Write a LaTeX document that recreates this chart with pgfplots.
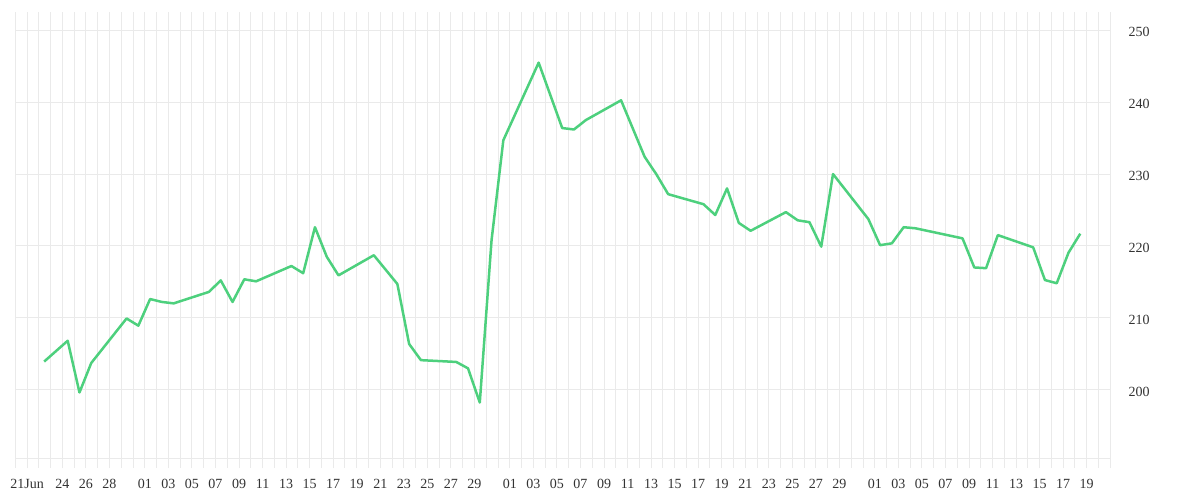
\documentclass[border=0pt]{standalone}
\usepackage{pgfplots}
\usepackage{pgfplotstable}
\pgfplotsset{compat=1.18}
\usepackage{fontspec}
\setmainfont{Liberation Serif}
\definecolor{linegreen}{RGB}{77,208,125}
\definecolor{gridgrey}{RGB}{234,234,234}
\pgfplotstableread{
d v
1 203.9
3 206.8
4 199.6
5 203.7
8 209.9
9 208.9
10 212.6
11 212.2
12 212.0
15 213.6
16 215.2
17 212.2
18 215.35
19 215.07
22 217.2
23 216.2
24 222.6
25 218.5
26 215.9
29 218.7
31 214.7
32 206.35
33 204.1
36 203.85
37 202.96
38 198.2
39 220.8
40 234.7
43 245.5
45 236.4
46 236.2
47 237.5
50 240.26
52 232.4
53 229.96
54 227.2
57 225.8
58 224.3
59 228.0
60 223.2
61 222.1
64 224.7
65 223.56
66 223.3
67 219.9
68 230.0
71 223.74
72 220.1
73 220.36
74 222.6
75 222.45
79 221.05
80 217.0
81 216.9
82 221.5
85 219.8
86 215.25
87 214.8
88 219.05
89 221.7
}\pricedata
\begin{document}
\begin{tikzpicture}
\begin{axis}[
  at={(0,0)}, anchor=south west,
  scale only axis,
  width=547.5pt, height=228pt,
  xmin=-1, xmax=92,
  ymin=189.09, ymax=252.55,
  axis line style={draw=none},
  major tick length=0pt, minor tick length=0pt,
  xtick={0,3,5,7,10,12,...,38,41,43,...,69,72,74,...,90},
  xticklabels={21Jun,24,26,28,01,03,05,07,09,11,13,15,17,19,21,23,25,27,29,01,03,05,07,09,11,13,15,17,19,21,23,25,27,29,01,03,05,07,09,11,13,15,17,19},
  minor xtick={-1,0,...,92},
  ytick={200,210,...,250},
  extra y ticks={190.44},
  extra y tick labels={},
  extra y tick style={grid=major},
  xmajorgrids, xminorgrids, ymajorgrids,
  grid style={draw=gridgrey, line width=0.5pt},
  minor grid style={draw=gridgrey, line width=0.5pt},
  yticklabel pos=right,
  /pgf/number format/assume math mode=true,
  ticklabel style={font=\fontsize{7}{8}\selectfont, text=black!80},
  yticklabel style={anchor=west, inner sep=0pt, xshift=9pt, yshift=-1pt},
  xticklabel style={anchor=north, inner sep=0pt, yshift=-5.5pt},
  clip=false,
]
\addplot[linegreen, line width=1.25pt, line join=round, mark=none]
  table[x expr=\thisrow{d}+0.45, y=v] {\pricedata};
\end{axis}
\pgfresetboundingbox
\path[use as bounding box] (-7.65pt,-16pt) rectangle (592.35pt,234pt);
\end{tikzpicture}
\end{document}
